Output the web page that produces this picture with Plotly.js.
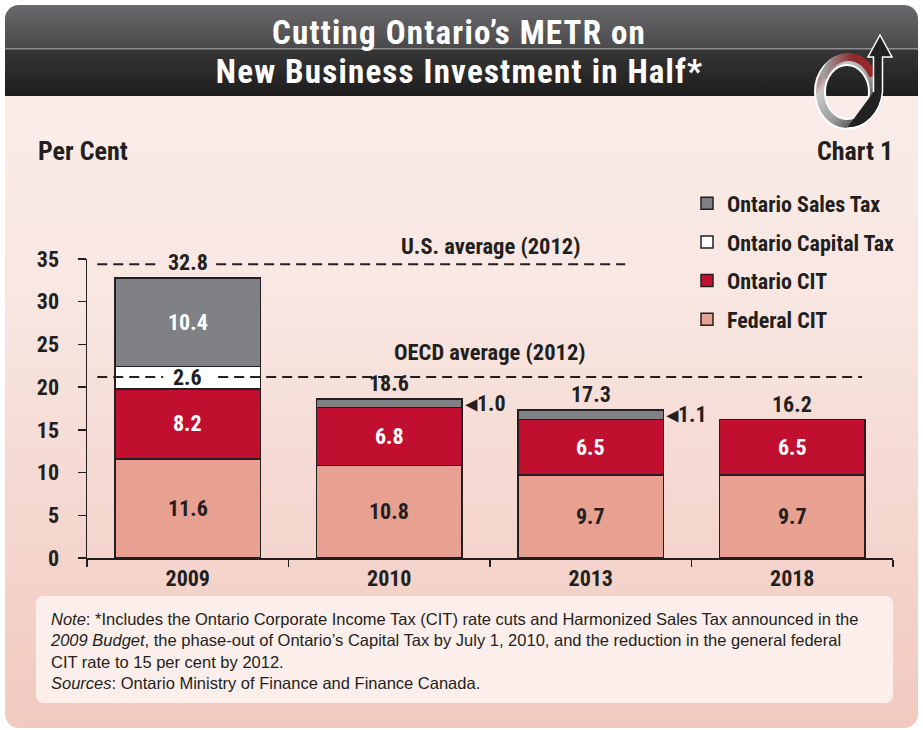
<!DOCTYPE html>
<html>
<head>
<meta charset="utf-8">
<script src="https://cdn.plot.ly/plotly-3.0.1.min.js"></script>
<style>
  html, body { margin: 0; padding: 0; background: #ffffff; }
  #wrap { position: relative; width: 923px; height: 730px; overflow: hidden; }
  #card { position: absolute; left: 5px; top: 5px; width: 913px; height: 723px; border-radius: 14px;
          background: linear-gradient(to bottom, #faefec 0px, #f8e6e1 300px, #f5d9d2 480px, #f1c9bf 723px); overflow: hidden; }
  #header { position: absolute; left: 0; top: 0; width: 913px; height: 91px;
          background: linear-gradient(to bottom, #6a6a6c 0px, #4a4a4c 43px, #8c8c8c 43px, #8c8c8c 44px, #363637 45px, #1d1d1d 91px); }
  #note { position: absolute; left: 36px; top: 596px; width: 857px; height: 107px; border-radius: 8px;
          background: #fbeeeb; box-shadow: 0 0 1px #fdf6f4; }
  #chart { position: absolute; left: 0; top: 0; width: 923px; height: 730px; }
  #logo { position: absolute; left: 805px; top: 25px; width: 110px; height: 115px; }
</style>
</head>
<body>
<div id="wrap">
  <div id="card"><div id="header"></div></div>
  <div id="note"></div>
  <div id="chart"></div>
  <svg id="logo" viewBox="805 25 110 115" xmlns="http://www.w3.org/2000/svg">
    <defs>
      <linearGradient id="ringG" x1="0" y1="0" x2="1" y2="1">
        <stop offset="0" stop-color="#9a2a2e"/>
        <stop offset="0.25" stop-color="#c8c8c8"/>
        <stop offset="0.6" stop-color="#9a9a9a"/>
        <stop offset="1" stop-color="#1a1a1a"/>
      </linearGradient>
      <linearGradient id="topG" x1="0" y1="0" x2="1" y2="0">
        <stop offset="0" stop-color="#a0a0a0"/>
        <stop offset="0.6" stop-color="#8e2a2e"/>
        <stop offset="1" stop-color="#9a2a2e"/>
      </linearGradient>
    </defs>
    <ellipse cx="847" cy="92" rx="27" ry="32" fill="none" stroke="#ffffff" stroke-width="12"/>
    <ellipse cx="847" cy="92" rx="27" ry="32" fill="none" stroke="url(#ringG)" stroke-width="8"/>
    <path d="M823,78 A27,32 0 0 1 873,76" fill="none" stroke="url(#topG)" stroke-width="8"/>
    <path d="M873.5,92 L873.5,57 L868,57 L880,35 L892,57 L882.5,57 L882.5,92 A35,40 0 0 1 847,128" fill="#222" stroke="#ffffff" stroke-width="1.5"/>
  </svg>
</div>
<script>
// ---- data ----
const categories = ['2009', '2010', '2013', '2018'];
const federalCIT  = [11.6, 10.8, 9.7, 9.7];
const ontarioCIT  = [8.2, 6.8, 6.5, 6.5];
const capitalTax  = [2.6, 0, 0, 0];
const salesTax    = [10.4, 1.0, 1.1, 0];
const totals      = [32.8, 18.6, 17.3, 16.2];
const usAverage   = [34.4];
const oecdAverage = [21.2];
const seriesNames = ['Federal CIT', 'Ontario CIT', 'Ontario Capital Tax', 'Ontario Sales Tax'];
const yTickVals   = [0, 5, 10, 15, 20, 25, 30, 35];

// ---- styles ----
const FB = '"Roboto Condensed", "Liberation Sans", Arial, sans-serif';
const FN = '"Liberation Sans", Arial, sans-serif';
const DARK = '#231f20';
const colors = ['#e8a091', '#c1102f', '#ffffff', '#808184'];
const labelColors = [DARK, '#ffffff', DARK, '#ffffff'];
const series = [federalCIT, ontarioCIT, capitalTax, salesTax];
const ranks = [4, 3, 2, 1];
const BARW = 0.72;
const NUMF = { family: FB, size: 22, color: DARK, weight: 'bold' };

const traces = series.map((vals, i) => ({
  type: 'bar', x: categories, y: vals, name: seriesNames[i], legendgroup: 'g' + i, legendrank: ranks[i],
  width: BARW, marker: { color: colors[i], line: { color: DARK, width: 1.5 } },
  hoverinfo: 'skip'
}));

const ann = [];
// segment labels
categories.forEach((c, j) => {
  let base = 0;
  series.forEach((vals, i) => {
    const v = vals[j];
    if (v >= 2) {
      ann.push({ x: j, y: base + v / 2, xref: 'x', yref: 'y', text: v.toFixed(1), showarrow: false,
                 font: Object.assign({}, NUMF, { color: labelColors[i] }) });
    } else if (v > 0) {
      ann.push({ x: j + BARW / 2, y: base + v / 2, xref: 'x', yref: 'y', text: '◂' + v.toFixed(1),
                 xanchor: 'left', xshift: 1, showarrow: false, font: NUMF });
    }
    base += v;
  });
  ann.push({ x: j, y: totals[j], xref: 'x', yref: 'y', text: totals[j].toFixed(1), yanchor: 'bottom', yshift: 1,
             showarrow: false, font: NUMF });
});
// reference line labels
ann.push({ x: 1.5, y: usAverage[0], xref: 'x', yref: 'y', text: 'U.S. average (2012)', yanchor: 'bottom', yshift: 3,
           showarrow: false, font: { family: FB, size: 22.5, color: DARK, weight: 'bold' } });
ann.push({ x: 1.5, y: oecdAverage[0], xref: 'x', yref: 'y', text: 'OECD average (2012)', yanchor: 'bottom', yshift: 9.5,
           showarrow: false, font: { family: FB, size: 22.5, color: DARK, weight: 'bold' } });
// headings
const px2x = p => (p - 87) / 806;
const py2y = p => (557.7 - p) / 298.4;
const titleLines = ['Cutting Ontario’s METR on', 'New Business Investment in Half*'];
const titleY = [33, 72];
titleLines.forEach((t, k) => {
  ann.push({ x: px2x(459), y: py2y(titleY[k]), xref: 'paper', yref: 'paper', xanchor: 'center', yanchor: 'middle',
             text: t, showarrow: false, font: { family: FB, size: 33, color: '#ffffff', weight: 'bold' } });
});
ann.push({ x: px2x(36), y: py2y(152), xref: 'paper', yref: 'paper', xanchor: 'left', yanchor: 'middle',
           text: 'Per Cent', showarrow: false, font: { family: FB, size: 26, color: DARK, weight: 'bold' } });
ann.push({ x: px2x(895), y: py2y(152), xref: 'paper', yref: 'paper', xanchor: 'right', yanchor: 'middle',
           text: 'Chart 1', showarrow: false, font: { family: FB, size: 26, color: DARK, weight: 'bold' } });
ann.push({ x: px2x(48), y: py2y(651), xref: 'paper', yref: 'paper', xanchor: 'left', yanchor: 'middle', align: 'left',
           text: '<i>Note</i>: *Includes the Ontario Corporate Income Tax (CIT) rate cuts and Harmonized Sales Tax announced in the<br>' +
                 '<i>2009 Budget</i>, the phase-out of Ontario’s Capital Tax by July 1, 2010, and the reduction in the general federal<br>' +
                 'CIT rate to 15 per cent by 2012.<br><i>Sources</i>: Ontario Ministry of Finance and Finance Canada.',
           showarrow: false, font: { family: FN, size: 16.5, color: DARK } });

const dashLine = (x0, x1, y) => ({ type: 'line', xref: 'x', yref: 'y', x0: x0, x1: x1, y0: y, y1: y,
                                   line: { color: DARK, width: 2, dash: '10px,6px' } });
const shapes = [
  dashLine(-0.449, -0.161, usAverage[0]), dashLine(0.141, 2.171, usAverage[0]),
  dashLine(-0.449, -0.122, oecdAverage[0]), dashLine(0.151, 3.347, oecdAverage[0])
];

const layout = {
  width: 923, height: 730,
  margin: { l: 87, r: 30, t: 259.3, b: 172.3, autoexpand: false },
  paper_bgcolor: 'rgba(0,0,0,0)', plot_bgcolor: 'rgba(0,0,0,0)',
  barmode: 'stack',
  showlegend: true,
  legend: { x: px2x(687), y: py2y(183), xanchor: 'left', yanchor: 'top', xref: 'paper', yref: 'paper',
            traceorder: 'grouped', tracegroupgap: 7, bgcolor: 'rgba(0,0,0,0)',
            font: { family: FB, size: 22, color: DARK, weight: 'bold' } },
  xaxis: { type: 'category', range: [-0.5, 3.5], showgrid: false, zeroline: false,
           showline: true, linecolor: DARK, linewidth: 1.5, ticks: 'outside', tickson: 'boundaries',
           ticklen: 7, tickwidth: 1.5, tickcolor: DARK,
           tickfont: { family: FB, size: 22, color: DARK, weight: 'bold' }, fixedrange: true },
  yaxis: { range: [0, 35], tickvals: yTickVals, showgrid: false, zeroline: false,
           showline: true, linecolor: DARK, linewidth: 1.5, ticks: 'outside', ticklen: 8, tickwidth: 1.5,
           tickcolor: DARK, ticklabelstandoff: 14,
           tickfont: { family: FB, size: 22, color: DARK, weight: 'bold' }, fixedrange: true },
  annotations: ann,
  shapes: shapes
};

Plotly.newPlot('chart', traces, layout, { staticPlot: true, displayModeBar: false }).then(() => {
  document.querySelectorAll('#chart .annotation text').forEach(t => {
    if (titleLines.indexOf(t.textContent) >= 0) t.style.letterSpacing = '1.2px';
  });
});
</script>
</body>
</html>
